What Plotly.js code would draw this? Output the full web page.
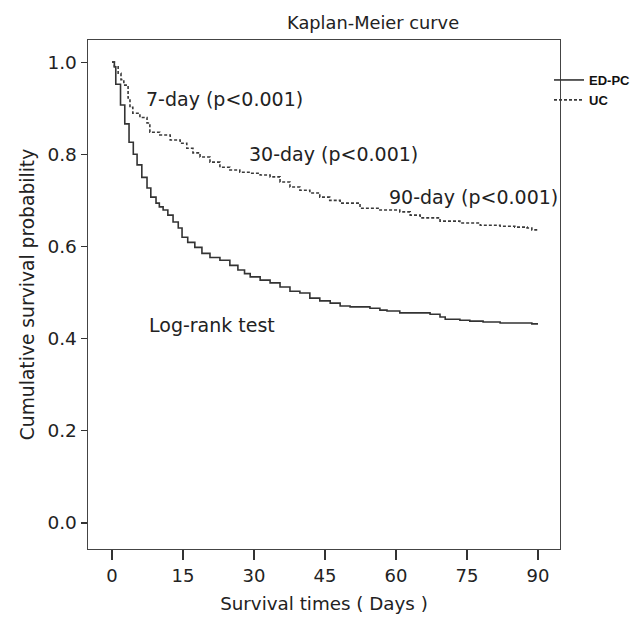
<!DOCTYPE html>
<html>
<head>
<meta charset="utf-8">
<script src="https://cdn.plot.ly/plotly-3.0.1.min.js"></script>
<style>
  html, body { margin: 0; padding: 0; background: #fff; }
  #chart { width: 630px; height: 620px; }
</style>
</head>
<body>
<div id="chart"></div>
<script>
// Kaplan-Meier step data
const edpcDays = [0, 0.5, 0.8, 1.8, 2.7, 3.6, 4.5, 5.3, 6.3, 7.4, 8.2, 9.3, 10.0, 10.8, 11.8, 12.9, 14.0, 14.8, 16.0, 17.5, 19.0, 20.7, 22.8, 24.9, 26.6, 28.0, 29.2, 31.3, 33.4, 35.5, 37.6, 39.7, 41.8, 43.9, 46.1, 48.2, 50.3, 54.5, 56.6, 58.1, 60.8, 67.2, 69.3, 70.4, 73.5, 75.6, 78.4, 82.0, 88.7, 90];
const edpcSurv = [1.0, 0.99, 0.952, 0.907, 0.866, 0.826, 0.80, 0.777, 0.75, 0.727, 0.707, 0.694, 0.686, 0.679, 0.668, 0.653, 0.640, 0.620, 0.609, 0.598, 0.585, 0.576, 0.570, 0.559, 0.549, 0.541, 0.534, 0.527, 0.521, 0.512, 0.503, 0.499, 0.488, 0.482, 0.477, 0.471, 0.469, 0.466, 0.462, 0.460, 0.456, 0.453, 0.447, 0.442, 0.440, 0.438, 0.436, 0.434, 0.432, 0.432];

const ucDays = [0, 0.5, 1.3, 1.9, 2.5, 3.4, 3.8, 4.4, 5.9, 7.4, 8.0, 10.1, 12.3, 14.4, 15.8, 17.1, 18.6, 20.7, 22.8, 24.9, 27.0, 29.2, 31.3, 33.4, 35.5, 37.6, 39.7, 41.8, 43.9, 46.0, 48.2, 52.4, 56.6, 60.8, 63.0, 65.1, 69.3, 73.5, 77.8, 82.0, 85.1, 87.7, 88.7, 90];
const ucSurv = [1.0, 0.99, 0.976, 0.962, 0.95, 0.922, 0.902, 0.889, 0.880, 0.868, 0.848, 0.842, 0.831, 0.824, 0.813, 0.803, 0.794, 0.783, 0.772, 0.766, 0.761, 0.759, 0.755, 0.751, 0.740, 0.729, 0.722, 0.716, 0.707, 0.700, 0.694, 0.683, 0.679, 0.675, 0.668, 0.662, 0.655, 0.651, 0.646, 0.644, 0.642, 0.640, 0.636, 0.634];

const seriesNames = ["ED-PC", "UC"];
const xTicks = [0, 15, 30, 45, 60, 75, 90];
const yTicks = [0.0, 0.2, 0.4, 0.6, 0.8, 1.0];
const yTickLabels = ["0.0", "0.2", "0.4", "0.6", "0.8", "1.0"];

const noteTexts = ["7-day (p<0.001)", "30-day (p<0.001)", "90-day (p<0.001)", "Log-rank test"];
const noteX = [23.7, 46.7, 76.3, 21.1];
const noteY = [0.920, 0.800, 0.707, 0.430];

const FONT = "DejaVu Sans, Verdana, sans-serif";

const traces = [
  {
    x: edpcDays, y: edpcSurv, name: seriesNames[0], type: "scatter", mode: "lines",
    line: { shape: "hv", color: "#333333", width: 1.6 }
  },
  {
    x: ucDays, y: ucSurv, name: seriesNames[1], type: "scatter", mode: "lines",
    line: { shape: "hv", color: "#3a3a3a", width: 1.6, dash: "3px,2px" }
  }
];

const layout = {
  width: 630, height: 620,
  margin: { l: 88, r: 70, t: 40, b: 71, autoexpand: false },
  paper_bgcolor: "#ffffff", plot_bgcolor: "#ffffff",
  font: { family: FONT, color: "#222222", size: 18 },
  title: {
    text: "Kaplan-Meier curve",
    font: { family: FONT, size: 17.8, color: "#222222" },
    xref: "paper", x: 0.604, xanchor: "center",
    yref: "container", y: 1 - 23 / 620, yanchor: "middle"
  },
  xaxis: {
    range: [-5.07, 94.65],
    tickvals: xTicks, ticktext: xTicks.map(String),
    ticks: "outside", ticklen: 10, tickwidth: 1.2, tickcolor: "#333",
    showline: true, linecolor: "#444", linewidth: 1.4, mirror: true,
    showgrid: false, zeroline: false,
    tickfont: { family: FONT, size: 18, color: "#222" },
    title: { text: "Survival times ( Days )", font: { family: FONT, size: 18.3, color: "#222" }, standoff: 12 }
  },
  yaxis: {
    range: [-0.0564, 1.048],
    tickvals: yTicks, ticktext: yTickLabels,
    ticks: "outside", ticklen: 6, tickwidth: 1.2, tickcolor: "#333",
    showline: true, linecolor: "#444", linewidth: 1.4, mirror: true,
    showgrid: false, zeroline: false,
    tickfont: { family: FONT, size: 18.5, color: "#222" },
    title: { text: "Cumulative survival probability", font: { family: FONT, size: 18.7, color: "#222" }, standoff: 8 }
  },
  showlegend: true,
  legend: {
    x: (549 - 88) / 472, xref: "paper", xanchor: "left",
    y: 1 - (65 - 40) / 509, yanchor: "top",
    bgcolor: "rgba(0,0,0,0)", borderwidth: 0,
    itemwidth: 30, tracegroupgap: 0,
    font: { family: "Liberation Sans, Arial, sans-serif", size: 13, color: "#111", weight: "bold" }
  },
  annotations: noteTexts.map((t, i) => ({
    text: t, x: noteX[i], y: noteY[i], xref: "x", yref: "y",
    showarrow: false, xanchor: "center", yanchor: "middle",
    font: { family: FONT, size: 19, color: "#222" }
  }))
};

Plotly.newPlot("chart", traces, layout, { displayModeBar: false, staticPlot: true });
</script>
</body>
</html>
